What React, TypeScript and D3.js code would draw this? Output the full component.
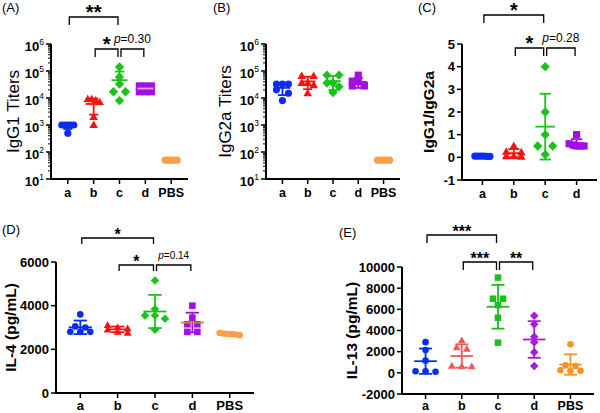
import { useEffect, useRef } from 'react'
import * as d3 from 'd3'

const groups = ['a', 'b', 'c', 'd', 'PBS']
const ratioGroups = ['a', 'b', 'c', 'd']

// values, one inner array per group
const igg1Titers = [
  [1000, 1000, 1000, 1000, 1000, 500],
  [9000, 9000, 8000, 7000, 2000, 1000],
  [140000, 60000, 33000, 17000, 17000, 8000],
  [28000, 28000, 28000, 17000, 17000, 17000],
  [50, 50, 50, 50, 50],
]
const igg2aTiters = [
  [33000, 33000, 33000, 20000, 15000, 8000],
  [65000, 65000, 36000, 36000, 30000, 15000],
  [70000, 70000, 36000, 36000, 26000, 16000],
  [70000, 42000, 40000, 30000, 28000, 28000],
  [50, 50, 50, 50, 50],
]
const igg1Ratio = [
  [0.05, 0.05, 0.04, 0.05, 0.05, 0.04],
  [0.5, 0.25, 0.22, 0.05, 0.03, 0.05],
  [4.0, 2.0, 1.0, 0.5, 0.5, 0.12],
  [1.0, 0.6, 0.55, 0.5, 0.5, 0.5],
]
const il4 = [
  [3600, 3050, 3000, 2800, 2800, 2800],
  [3100, 3000, 2950, 2900, 2800, 2750],
  [5150, 3850, 3550, 3550, 3400, 2900],
  [4000, 3450, 3150, 3150, 2800, 2800],
  [2750, 2720, 2700, 2700, 2680, 2650],
]
const il13 = [
  [2900, 2150, 1150, 150, 100, 150],
  [3050, 2400, 2250, 650, 600, 600],
  [9000, 7000, 7000, 6400, 5200, 2850],
  [5400, 4600, 3400, 2900, 1950, 650],
  [2700, 700, 650, 250, 200, 200],
]

const logTicks = [10, 100, 1000, 10000, 100000, 1000000]
const ratioTicks = [-1, 0, 1, 2, 3, 4, 5]
const il4Ticks = [0, 2000, 4000, 6000]
const il13Ticks = [-2000, 0, 2000, 4000, 6000, 8000, 10000]

const sigIgG1 = [
  { from: 'a', to: 'c', text: '**', level: 0 },
  { from: 'b', to: 'c', text: '*', level: 1 },
  { from: 'c', to: 'd', text: 'p=0.30', level: 1 },
]
const sigRatio = [
  { from: 'a', to: 'c', text: '*', level: 0 },
  { from: 'b', to: 'c', text: '*', level: 1 },
  { from: 'c', to: 'd', text: 'p=0.28', level: 1 },
]
const sigIL4 = [
  { from: 'a', to: 'c', text: '*', level: 0 },
  { from: 'b', to: 'c', text: '*', level: 1 },
  { from: 'c', to: 'd', text: 'p=0.14', level: 1 },
]
const sigIL13 = [
  { from: 'a', to: 'c', text: '***', level: 0 },
  { from: 'b', to: 'c', text: '***', level: 1 },
  { from: 'c', to: 'd', text: '**', level: 1 },
]

const FONT = 'Liberation Sans, Arial, sans-serif'
const BLUE = '#0b2cf0'
const RED = '#f51414'
const GREEN = '#1cc21c'
const PURPLE = '#a30fe3'
const ORANGE = '#ff9f45'

const panels = [
  {
    tag: '(A)', tagX: 2, tagY: 12,
    title: 'IgG1 Titers', titleX: 19, titleSize: 17, titleBold: false,
    left: 51, right: 188, top: 44, bottom: 179,
    cats: groups, values: igg1Titers, log: true, domain: [10, 1e6], ticks: logTicks,
    shapes: ['circle', 'triangle', 'diamond', 'square', 'circle'],
    colors: [BLUE, RED, GREEN, PURPLE, ORANGE],
    meanColors: [null, null, null, '#e9a2ef', null],
    r: 3.6, spacing: 12, maxWidth: 12, catSize: 12.5, catDy: 18,
    sigs: sigIgG1, sigY: [17, 49], leg: 8, starSize: 20, pSize: 12,
  },
  {
    tag: '(B)', tagX: 213, tagY: 12,
    title: 'IgG2a Titers', titleX: 231, titleSize: 17, titleBold: false,
    left: 266, right: 400, top: 44, bottom: 179,
    cats: groups, values: igg2aTiters, log: true, domain: [10, 1e6], ticks: logTicks,
    shapes: ['circle', 'triangle', 'diamond', 'square', 'circle'],
    colors: [BLUE, RED, GREEN, PURPLE, ORANGE],
    meanColors: [null, null, null, null, null],
    r: 3.6, spacing: 12, maxWidth: 12, catSize: 12.5, catDy: 18,
    sigs: [], sigY: [], leg: 8, starSize: 20, pSize: 12,
  },
  {
    tag: '(C)', tagX: 418, tagY: 12,
    title: 'IgG1/IgG2a', titleX: 434, titleSize: 15.5, titleBold: true,
    left: 462, right: 597, top: 44, bottom: 180,
    cats: ratioGroups, values: igg1Ratio, log: false, domain: [-1, 5], ticks: ratioTicks,
    shapes: ['circle', 'triangle', 'diamond', 'square'],
    colors: [BLUE, RED, GREEN, PURPLE],
    meanColors: [null, null, null, null],
    r: 3.6, spacing: 15, maxWidth: 15, catSize: 12.5, catDy: 18,
    sigs: sigRatio, sigY: [15, 48], leg: 8, starSize: 20, pSize: 12,
  },
  {
    tag: '(D)', tagX: 2, tagY: 234,
    title: 'IL-4 (pg/mL)', titleX: 16, titleSize: 15.5, titleBold: true,
    left: 56, right: 254, top: 262, bottom: 393,
    cats: groups, values: il4, log: false, domain: [0, 6000], ticks: il4Ticks,
    shapes: ['circle', 'triangle', 'diamond', 'square', 'circle'],
    colors: [BLUE, RED, GREEN, PURPLE, ORANGE],
    meanColors: [null, null, null, '#b98a4e', null],
    r: 3.3, spacing: 10, maxWidth: 20, catSize: 13, catDy: 17,
    sigs: sigIL4, sigY: [238, 265], leg: 6, starSize: 16, pSize: 10,
  },
  {
    tag: '(E)', tagX: 339, tagY: 237,
    title: 'IL-13 (pg/mL)', titleX: 357, titleSize: 15.5, titleBold: true,
    left: 402, right: 594, top: 267, bottom: 394,
    cats: groups, values: il13, log: false, domain: [-2000, 10000], ticks: il13Ticks,
    shapes: ['circle', 'triangle', 'square', 'diamond', 'circle'],
    colors: [BLUE, '#f25a5a', '#1fbd1f', '#a31fdc', '#f5942a'],
    meanColors: [null, null, null, null, null],
    r: 3.3, spacing: 10, maxWidth: 20, catSize: 12.5, catDy: 16,
    sigs: sigIL13, sigY: [235, 262], leg: 8, starSize: 16, pSize: 10,
  },
]

const marker = (shape: string, r: number) => {
  if (shape === 'circle') return d3.symbol(d3.symbolCircle, Math.PI * r * r)()
  if (shape === 'square') return d3.symbol(d3.symbolSquare, (2 * r) * (2 * r))()
  if (shape === 'triangle') return `M0,${-r * 1.25}L${r * 1.2},${r * 0.85}L${-r * 1.2},${r * 0.85}Z`
  return `M0,${-r * 1.3}L${r * 1.3},0L0,${r * 1.3}L${-r * 1.3},0Z`
}

// points at (almost) the same height are laid out in a row, GraphPad style
const spreadRows = (ys: number[], spacing: number, maxWidth: number) => {
  const idx = ys.map((_, i) => i).sort((a, b) => ys[a] - ys[b])
  const out = ys.map(() => 0)
  let row: number[] = []
  const flush = () => {
    const n = row.length
    const s = n > 1 ? Math.min(spacing, maxWidth / (n - 1)) : 0
    row.forEach((k, j) => { out[k] = (j - (n - 1) / 2) * s })
    row = []
  }
  idx.forEach(k => {
    if (row.length && ys[k] - ys[row[0]] > 4) flush()
    row.push(k)
  })
  flush()
  return out
}

const drawPanel = (svg: any, p: any) => {
  const g = svg.append('g')
  const x = d3.scalePoint().domain(p.cats).range([p.left, p.right]).padding(0.65)
  const y: any = p.log
    ? d3.scaleLog().domain(p.domain).range([p.bottom, p.top])
    : d3.scaleLinear().domain(p.domain).range([p.bottom, p.top])
  const step = x.step()

  g.append('text').text(p.tag)
    .attr('x', p.tagX).attr('y', p.tagY)
    .style('font-family', FONT).style('font-size', '13px')

  g.append('text').text(p.title)
    .attr('transform', `translate(${p.titleX},${(p.top + p.bottom) / 2}) rotate(-90)`)
    .attr('text-anchor', 'middle')
    .style('font-family', FONT).style('font-size', p.titleSize + 'px')
    .style('font-weight', p.titleBold ? 'bold' : 'normal')

  // y axis ticks
  p.ticks.forEach((t: number) => {
    g.append('line')
      .attr('x1', p.left - 5).attr('x2', p.left).attr('y1', y(t)).attr('y2', y(t))
      .attr('stroke', '#000').attr('stroke-width', 1.5)
    const lab = g.append('text')
      .attr('x', p.left - 7).attr('y', y(t)).attr('dy', '0.36em')
      .attr('text-anchor', 'end')
      .style('font-family', FONT).style('font-weight', 'bold').style('font-size', '13px')
    if (p.log) {
      lab.attr('dy', '0.55em')
      lab.append('tspan').text('10')
      lab.append('tspan').text(String(Math.round(Math.log10(t))))
        .attr('dy', -6).style('font-size', '8.5px').style('font-weight', 'normal')
    } else {
      lab.text(String(t))
    }
  })
  if (p.log) {
    for (let e = 1; e < 6; e++) {
      for (let m = 2; m < 10; m++) {
        const v = m * Math.pow(10, e)
        g.append('line')
          .attr('x1', p.left - 3).attr('x2', p.left).attr('y1', y(v)).attr('y2', y(v))
          .attr('stroke', '#000').attr('stroke-width', 1)
      }
    }
  }

  // x ticks and labels
  p.cats.forEach((c: string) => {
    g.append('line')
      .attr('x1', x(c)).attr('x2', x(c)).attr('y1', p.bottom).attr('y2', p.bottom + 5)
      .attr('stroke', '#000').attr('stroke-width', 1.5)
    g.append('text').text(c)
      .attr('x', x(c)).attr('y', p.bottom + p.catDy)
      .attr('text-anchor', 'middle')
      .style('font-family', FONT).style('font-weight', 'bold').style('font-size', p.catSize + 'px')
  })

  g.append('path')
    .attr('d', `M${p.left},${p.top}V${p.bottom}H${p.right}`)
    .attr('fill', 'none').attr('stroke', '#000').attr('stroke-width', 2)

  // points, mean and SD
  p.values.forEach((vals: number[], i: number) => {
    const cx = x(p.cats[i]) as number
    const color = p.colors[i]
    const ys = vals.map(v => y(v))
    const offs = spreadRows(ys, p.spacing, p.maxWidth)
    const path = marker(p.shapes[i], p.r)
    vals.forEach((_, k) => {
      g.append('path').attr('d', path)
        .attr('transform', `translate(${cx + offs[k]},${ys[k]})`)
        .attr('fill', color)
    })
    const m = d3.mean(vals) as number
    const sd = d3.deviation(vals) || 0
    const lineColor = p.meanColors[i] || color
    const hi = m + sd
    const lo = m - sd
    const loOk = !p.log || lo > p.domain[0]
    const capW = step * 0.36
    const meanW = step * 0.62
    const bars = g.append('g').attr('stroke', color).attr('stroke-width', 1.8).attr('fill', 'none')
    if (sd > 0) {
      bars.append('line').attr('x1', cx).attr('x2', cx)
        .attr('y1', y(hi)).attr('y2', loOk ? y(lo) : y(m))
      bars.append('line').attr('x1', cx - capW / 2).attr('x2', cx + capW / 2)
        .attr('y1', y(hi)).attr('y2', y(hi))
      if (loOk) {
        bars.append('line').attr('x1', cx - capW / 2).attr('x2', cx + capW / 2)
          .attr('y1', y(lo)).attr('y2', y(lo))
      }
    }
    g.append('line').attr('x1', cx - meanW / 2).attr('x2', cx + meanW / 2)
      .attr('y1', y(m)).attr('y2', y(m))
      .attr('stroke', lineColor).attr('stroke-width', 1.8)
  })

  // significance brackets
  p.sigs.forEach((s: any) => {
    const xa = (x(s.from) as number) + 1.5
    const xb = (x(s.to) as number) - 1.5
    const by = p.sigY[s.level]
    g.append('path')
      .attr('d', `M${xa},${by + p.leg}V${by}H${xb}V${by + p.leg}`)
      .attr('fill', 'none').attr('stroke', '#000').attr('stroke-width', 1.3)
    const mid = (xa + xb) / 2
    if (s.text.startsWith('p')) {
      const t = g.append('text').attr('x', mid).attr('y', by - 6)
        .attr('text-anchor', 'middle')
        .style('font-family', FONT).style('font-size', p.pSize + 'px')
      t.append('tspan').text('p').style('font-style', 'italic')
      t.append('tspan').text(s.text.slice(1))
    } else {
      g.append('text').text(s.text).attr('x', mid).attr('y', by + 2)
        .attr('text-anchor', 'middle')
        .style('font-family', FONT).style('font-weight', 'bold').style('font-size', p.starSize + 'px')
    }
  })
}

const App = () => {
  const ref = useRef<SVGSVGElement>(null)
  useEffect(() => {
    const svg = d3.select(ref.current)
    svg.selectAll('*').remove()
    panels.forEach(p => drawPanel(svg, p))
  }, [])
  return (
    <svg ref={ref} width={600} height={413}
      style={{ position: 'absolute', left: 0, top: 0, background: '#fff' }} />
  )
}

export default App
